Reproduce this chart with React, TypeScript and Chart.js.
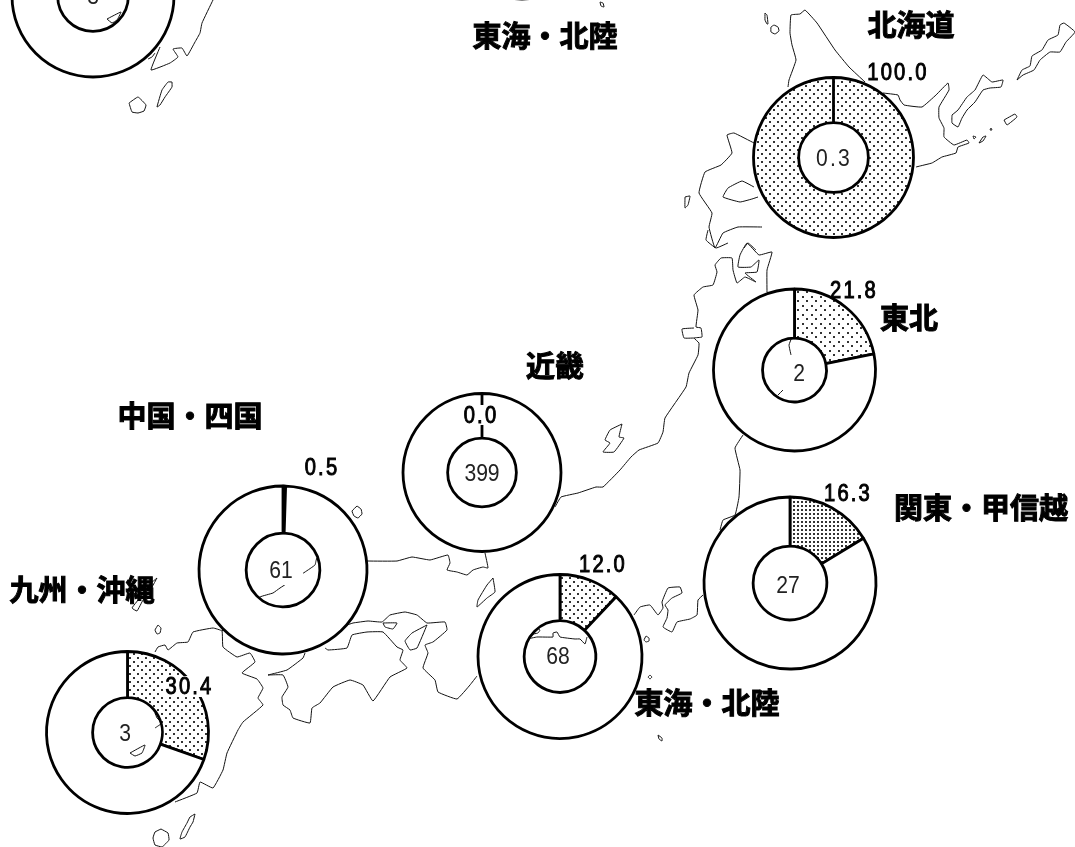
import React, { useEffect, useRef } from "react";
import { Chart, registerables } from "chart.js";

Chart.register(...registerables);

// ---------- values ----------
const regions = ["北海道", "東北", "関東・甲信越", "東海・北陸", "近畿", "中国・四国", "九州・沖縄"];
const sharePct = [100.0, 21.8, 16.3, 12.0, 0.0, 0.5, 30.4];
const centerValues = ["0.3", "2", "27", "68", "399", "61", "3"];

// ---------- coastline traces, in map units ----------
const hokkaidoNW = [[788,87],[789,80],[796,60],[792,45],[790,33],[791,15],[800,14],[805,10],[817,23],[835,50],[849,67],[865,82]];
const hokkaidoE = [[883,93],[898,95],[900,100],[904,105],[922,107],[936,95],[948,83],[949,90],[939,107],[939,118],[944,128],[944,137],[954,145],[967,140],[969,143],[958,147],[956,153],[942,157],[932,163],[920,166],[916,167]];
const hokkaidoSW = [[754,143],[734,133],[727,135],[732,153],[721,165],[705,172],[699,193],[712,213],[709,227],[715,248],[723,233],[738,227],[762,227]];
const volcanoBay = [[758,197],[752,199],[740,202],[723,197],[728,188],[742,181],[754,187]];
const oshimaTip = [[744,248],[748,243],[756,250]];
const rishiri = [[774,25],[778,27],[779,31],[775,34],[771,32],[771,27],[774,25]];
const rebun = [[765,13],[767,15],[768,24],[767,24],[765,20],[765,13]];
const okushiri = [[685,197],[690,196],[688,205],[685,208],[685,197]];
const etorofu = [[1017,80],[1022,70],[1030,66],[1032,56],[1042,50],[1048,40],[1058,35],[1060,25],[1064,23],[1075,32],[1066,42],[1060,52],[1050,52],[1040,60],[1034,70],[1023,75],[1017,80]];
const kunashiri = [[952,115],[958,110],[967,97],[975,90],[983,75],[992,82],[1003,80],[1001,87],[990,88],[983,90],[975,102],[967,110],[962,118],[958,127],[952,123],[952,115]];
const shikotan = [[1004,120],[1015,114],[1017,117],[1007,125],[1004,120]];
const habomaiA = [[979,143],[983,137],[986,136],[983,141],[979,143]];
const habomaiB = [[973,136],[976,137],[974,139],[973,136]];
const habomaiC = [[991,128],[992,130],[990,130],[991,128]];
const tsugaruSouth = [[708,230],[706,240],[716,248],[728,243]];
const honshuJapanSea = [[767,292],[767,270],[772,252],[759,255],[747,243],[740,255],[738,267],[751,267],[759,260],[757,272],[745,273],[756,282],[745,277],[737,283],[733,270],[732,258],[721,258],[715,265],[717,272],[713,285],[703,287],[694,295],[698,310],[696,327],[701,328],[702,337],[694,338],[699,343],[698,355],[689,373],[686,387],[665,418],[663,432],[658,443],[639,450],[631,457],[620,470],[603,487],[596,487],[578,493],[561,497],[555,507]];
const oga = [[694,328],[682,329],[684,338],[694,338]];
const sado = [[622,424],[610,430],[605,440],[610,443],[603,452],[614,452],[624,438],[619,437],[622,424]];
const tohokuPacific = [[792,337],[789,345],[791,355]];
const tohokuPacific2 = [[783,390],[778,395]];
const tohokuPacific3 = [[743,435],[735,448],[740,470],[739,497],[735,515],[723,520],[720,530]];
const kanto = [[634,615],[640,607],[650,605],[658,615],[663,608],[662,602],[668,588],[680,587],[682,593],[672,598],[665,605],[668,610],[667,618],[663,627],[672,632],[677,622],[690,619],[697,615],[698,600],[703,595]];
const tokaiHole = [[527,639],[537,637],[553,637],[553,633],[557,632],[560,637],[575,639],[580,639],[585,644],[587,637]];
const tokaiHole2 = [[528,635],[537,628],[540,630],[538,633],[528,635]];
const izuA = [[646,636],[649,638],[649,641],[646,642],[644,640],[646,636]];
const izuB = [[650,675],[652,677],[650,679],[648,677],[650,675]];
const izuC = [[658,735],[662,738],[662,741],[659,739],[658,735]];
const kiiKansai = [[477,676],[470,685],[457,699],[438,692],[435,680],[423,668],[428,653],[425,645],[433,642],[447,630],[445,622],[427,623],[417,615],[405,612],[390,615],[382,622],[368,621],[353,623],[347,625]];
const awaji = [[427,625],[412,633],[405,641],[410,650],[417,648],[427,625]];
const shodoshima = [[383,623],[397,623],[393,629],[385,627],[383,623]];
const shikoku = [[268,675],[287,670],[303,658],[305,653]];
const shikoku2 = [[325,648],[328,650],[347,648],[352,635],[367,632],[383,632],[397,647],[403,650],[400,660],[407,668],[390,677],[373,701],[363,685],[350,680],[333,687],[320,703],[312,708],[310,723],[293,718],[290,710],[283,705],[282,697],[288,687],[283,675],[268,675]];
const kyushuNorth = [[155,652],[158,647],[165,645],[168,650],[177,643],[188,642],[193,632],[213,628],[222,631],[223,647],[237,657],[250,653],[255,662],[242,673],[257,679],[263,688],[258,698],[263,705],[243,722],[238,730],[227,753],[223,770],[213,788],[200,782],[197,793],[175,802]];
const sanin = [[222,631],[260,597],[273,593],[280,588],[305,572],[315,565],[317,558],[368,561],[397,561],[412,557],[430,560],[448,555],[450,563],[447,570],[457,572],[467,575],[473,570],[483,567],[488,568],[485,553]];
const kyushuHoleA = [[155,713],[157,718],[162,723],[155,728]];
const kyushuHoleB = [[163,733],[161,745]];
const koshiki = [[130,753],[145,745],[142,753],[135,756],[130,753]];
const tanegashima = [[195,814],[190,817],[187,823],[182,832],[180,839],[185,837],[190,827],[193,822],[195,814]];
const yakushima = [[161,829],[168,833],[169,840],[162,847],[155,845],[153,838],[155,832],[161,829]];
const goto = [[158,625],[161,628],[160,633],[157,634],[155,630],[158,625]];
const tsushima = [[157,578],[152,587],[143,600],[137,611],[132,608],[143,594],[150,584],[157,578]];
const oki = [[357,506],[361,509],[362,514],[358,518],[354,516],[352,511],[357,506]];
const wakasa = [[493,578],[487,585],[478,600],[477,607],[487,598],[495,592],[493,578]];
const copyKyushu = [[213,0],[202,23],[200,33],[195,42],[187,56],[182,48],[173,49],[178,57],[170,63],[151,70],[160,47]];
const copyIslet = [[107,19],[121,12],[117,20],[112,23],[107,19]];
const copyNear = [[148,59],[152,57],[155,53]];
const copyTanega = [[172,82],[168,82],[162,90],[157,107],[160,105],[165,97],[172,87],[172,82]];
const copyYaku = [[129,103],[138,97],[146,105],[144,111],[138,113],[132,112],[129,103]];
const topIslet = [[600,2],[603,3],[604,7],[601,6],[600,2]];

const coastlines = [
  hokkaidoNW, hokkaidoE, hokkaidoSW, volcanoBay, oshimaTip, rishiri, rebun, okushiri, etorofu, kunashiri,
  shikotan, habomaiA, habomaiB, habomaiC, tsugaruSouth, honshuJapanSea, oga, sado, tohokuPacific,
  tohokuPacific2, tohokuPacific3, kanto, tokaiHole, tokaiHole2, izuA, izuB, izuC, kiiKansai, awaji,
  shodoshima, shikoku, shikoku2, kyushuNorth, sanin, kyushuHoleA, kyushuHoleB, koshiki, tanegashima,
  yakushima, goto, tsushima, oki, wakasa, copyKyushu, copyIslet, copyNear, copyTanega, copyYaku, topIslet,
];

// ---------- layout, kept apart from the values ----------
const W = 1075;
const H = 1047;
const OFFSET = 200; // canvases start above the page so the cropped rings can be drawn

type Text = { x: number; y: number; bg?: number[] };
type Ring = { c: number[]; r: number; h: number; tile: number; grid?: boolean; pct: Text; center: Text; name: Text };

const rings: Ring[] = [
  { c: [833.5, 157.5], r: 80, h: 36, tile: 8, pct: { x: 898, y: 72, bg: [866, 62, 64, 20] }, center: { x: 834, y: 158 }, name: { x: 911, y: 25 } },
  { c: [794.5, 370], r: 81, h: 33, tile: 9, pct: { x: 854, y: 290, bg: [828, 281, 52, 9] }, center: { x: 799, y: 373 }, name: { x: 909, y: 318 } },
  { c: [790, 583], r: 86, h: 38, tile: 4, grid: true, pct: { x: 848, y: 493 }, center: { x: 788, y: 585 }, name: { x: 981, y: 508 } },
  { c: [560, 656.5], r: 82, h: 37, tile: 8, pct: { x: 603, y: 564 }, center: { x: 558, y: 656 }, name: { x: 707, y: 703 } },
  { c: [482, 472.5], r: 79, h: 35.5, tile: 8, pct: { x: 481, y: 415, bg: [460, 405, 42, 20] }, center: { x: 482, y: 473 }, name: { x: 555, y: 366 } },
  { c: [283, 570], r: 84, h: 38, tile: 8, pct: { x: 322, y: 467 }, center: { x: 281, y: 570, bg: [266, 556, 37, 29] }, name: { x: 190, y: 416 } },
  { c: [127.5, 732.5], r: 81, h: 36, tile: 8, pct: { x: 189.5, y: 686, bg: [165, 676, 50, 21] }, center: { x: 125, y: 733 }, name: { x: 82, y: 590 } },
];

// the two rings cropped by the top of the page
const croppedRings = [
  { c: [93, -4], r: 81, h: 36.5, centerText: "3", name: "", nameAt: [0, 0] },
  { c: [522, -80], r: 79, h: 36, centerText: "", name: "東海・北陸", nameAt: [545, 36] },
];

const NUM_FONT = '24px "Liberation Sans", Arial, sans-serif';
const NAME_FONT = '700 29px "Noto Sans CJK JP", sans-serif';

function dots(tile: number, grid?: boolean) {
  const c = document.createElement("canvas");
  c.width = tile;
  c.height = tile;
  const g = c.getContext("2d")!;
  g.fillStyle = "#fff";
  g.fillRect(0, 0, tile, tile);
  g.fillStyle = "#333";
  if (grid) {
    g.fillRect(1, 1, 2, 2);
  } else {
    g.fillRect(1, 1, 2, 2);
    const m = Math.floor(tile / 2);
    g.fillRect(1 + m, 1 + m, 2, 2);
  }
  return g.createPattern(c, "repeat")!;
}

function drawNumber(g: CanvasRenderingContext2D, t: string, x: number, y: number, outer: boolean) {
  g.save();
  g.font = NUM_FONT;
  (g as any).letterSpacing = t.includes(".") ? "2.6px" : "0px";
  g.textAlign = "center";
  g.textBaseline = "middle";
  g.fillStyle = outer ? "#000" : "#222";
  g.translate(x, y + OFFSET + 1);
  g.scale(outer ? 0.84 : 0.88, 1);
  g.fillText(t, 0, 0);
  if (outer) {
    g.strokeStyle = "#000";
    g.lineWidth = 1;
    g.strokeText(t, 0, 0);
  }
  g.restore();
}

function drawName(g: CanvasRenderingContext2D, t: string, x: number, y: number) {
  g.save();
  g.font = NAME_FONT;
  g.textAlign = "center";
  g.textBaseline = "middle";
  g.fillStyle = "#000";
  g.strokeStyle = "#000";
  g.lineWidth = 1;
  g.fillText(t, x, y + OFFSET);
  g.strokeText(t, x, y + OFFSET);
  g.restore();
}

function ringChart(cv: HTMLCanvasElement, c: number[], r: number, h: number, values: number[], fills: any[], paint: (g: CanvasRenderingContext2D) => void) {
  const pad = r + 4;
  return new Chart(cv, {
    type: "doughnut",
    data: {
      labels: ["share", "rest"],
      datasets: [{ data: values, backgroundColor: fills, borderColor: "#000", borderWidth: 2.8, borderAlign: "center" as any }],
    },
    options: {
      animation: false,
      responsive: false,
      events: [],
      radius: r,
      cutout: h,
      layout: {
        padding: { left: c[0] - pad, right: W - c[0] - pad, top: c[1] + OFFSET - pad, bottom: H - c[1] - OFFSET - pad },
      },
      plugins: { legend: { display: false }, tooltip: { enabled: false }, title: { display: false } },
    },
    plugins: [{ id: "texts", afterDraw: (ch: any) => paint(ch.ctx) }],
  } as any);
}

export default function App() {
  const mapRef = useRef<HTMLCanvasElement>(null);
  const ringRefs = useRef<(HTMLCanvasElement | null)[]>([]);

  useEffect(() => {
    const charts: Chart[] = [];
    charts.push(
      new Chart(mapRef.current!, {
        type: "scatter",
        data: {
          datasets: coastlines.map((line) => ({
            data: line.map(([x, y]) => ({ x, y })),
            showLine: true,
            borderColor: "#111",
            borderWidth: 1,
            pointRadius: 0,
            tension: 0.1,
            fill: false,
          })),
        },
        options: {
          animation: false,
          responsive: false,
          events: [],
          layout: { padding: 0 },
          scales: {
            x: { type: "linear", min: 0, max: W, display: false },
            y: { type: "linear", min: -OFFSET, max: H - OFFSET, reverse: true, display: false },
          },
          plugins: { legend: { display: false }, tooltip: { enabled: false } },
        },
      } as any)
    );

    croppedRings.forEach((cr, i) => {
      charts.push(
        ringChart(ringRefs.current[i]!, cr.c, cr.r, cr.h, [1], ["#fff"], (g) => {
          if (cr.centerText) drawNumber(g, cr.centerText, cr.c[0], cr.c[1], false);
          if (cr.name) drawName(g, cr.name, cr.nameAt[0], cr.nameAt[1]);
        })
      );
    });

    rings.forEach((ring, i) => {
      const share = sharePct[i];
      const pct = share.toFixed(1);
      const values = [share, 100 - share];
      const fills = [dots(ring.tile, ring.grid), "#fff"];
      charts.push(
        ringChart(ringRefs.current[i + croppedRings.length]!, ring.c, ring.r, ring.h, values, fills, (g) => {
          if (ring.pct.bg) {
            const [x, y, w, hh] = ring.pct.bg;
            g.fillStyle = "#fff";
            g.fillRect(x, y + OFFSET, w, hh);
          }
          drawNumber(g, pct, ring.pct.x, ring.pct.y, true);
          if (ring.center.bg) {
            const [x, y, w, hh] = ring.center.bg;
            g.fillStyle = "#fff";
            g.fillRect(x, y + OFFSET, w, hh);
          }
          drawNumber(g, centerValues[i], ring.center.x, ring.center.y, false);
          drawName(g, regions[i], ring.name.x, ring.name.y);
        })
      );
    });

    return () => charts.forEach((c) => c.destroy());
  }, []);

  const layer: React.CSSProperties = { position: "absolute", left: 0, top: -OFFSET, width: W, height: H };
  const total = croppedRings.length + rings.length;
  return (
    <div style={{ position: "absolute", left: 0, top: 0, width: 1075, height: 847, overflow: "hidden", background: "#fff" }}>
      <canvas ref={mapRef} width={W} height={H} style={layer} />
      {Array.from({ length: total }).map((_, i) => (
        <canvas key={i} ref={(el) => { ringRefs.current[i] = el; }} width={W} height={H} style={layer} />
      ))}
    </div>
  );
}
